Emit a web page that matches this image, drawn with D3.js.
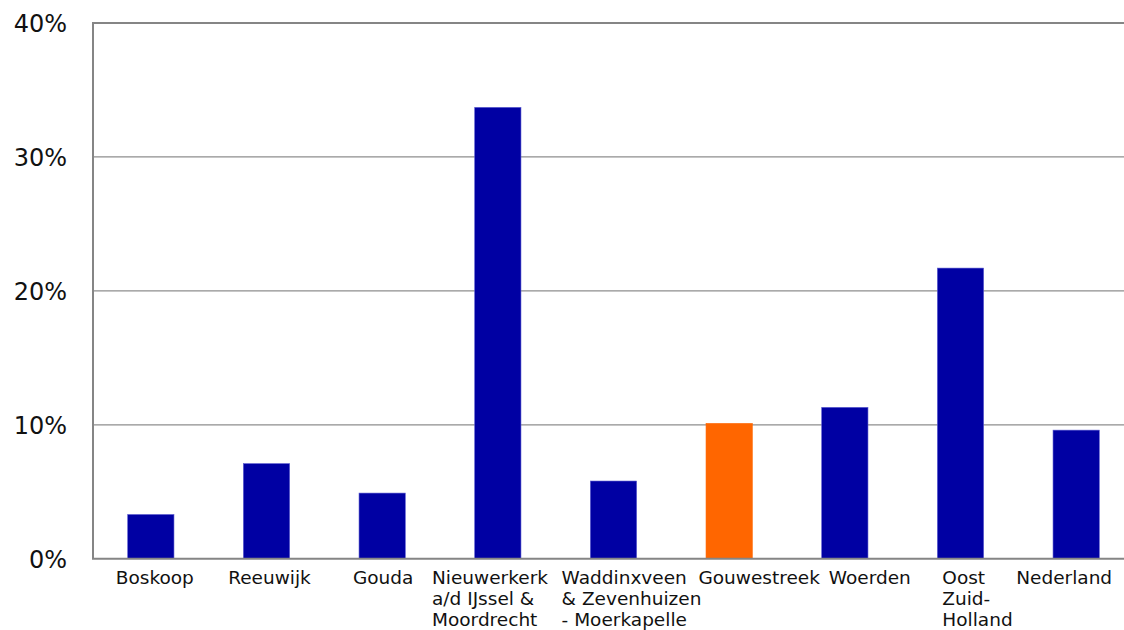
<!DOCTYPE html>
<html>
<head>
<meta charset="utf-8">
<script src="https://cdn.jsdelivr.net/npm/d3@7/dist/d3.min.js"></script>
<style>
  html, body { margin: 0; padding: 0; background: #fff; }
  svg { display: block; }
  text { font-family: "DejaVu Sans", Verdana, sans-serif; fill: #111; }
</style>
</head>
<body>
<svg id="chart" width="1124" height="630"></svg>
<script>
// Regions, each label split into its display lines
const categories = [
  ["Boskoop"],
  ["Reeuwijk"],
  ["Gouda"],
  ["Nieuwerkerk", "a/d IJssel &", "Moordrecht"],
  ["Waddinxveen", "& Zevenhuizen", "- Moerkapelle"],
  ["Gouwestreek"],
  ["Woerden"],
  ["Oost", "Zuid-", "Holland"],
  ["Nederland"]
];
// Share per region, in percent
const values = [3.3, 7.1, 4.9, 33.7, 5.8, 10.1, 11.3, 21.7, 9.6];
// The region total is highlighted
const highlight = ["Gouwestreek"];
const yTicks = [0, 10, 20, 30, 40];
const yTickLabels = ["0%", "10%", "20%", "30%", "40%"];

// Layout
const plot = { left: 93, right: 1134, top: 23, bottom: 558.7 };
// horizontal shift of each label block so neighbouring labels don't collide
const labelShift = [4, 3, 1, -8, 18, 30, 25, 17, -12];

const names = categories.map(c => c.join(" "));
const svg = d3.select("#chart");

const x = d3.scaleBand()
  .domain(names)
  .range([plot.left, plot.right])
  .paddingInner(0.6)
  .paddingOuter(0.3);

const y = d3.scaleLinear()
  .domain([0, 40])
  .range([plot.bottom, plot.top]);

// gridlines
svg.append("g")
  .selectAll("line")
  .data(yTicks.filter(t => t > 0 && t < 40))
  .join("line")
  .attr("x1", plot.left)
  .attr("x2", plot.right)
  .attr("y1", d => y(d))
  .attr("y2", d => y(d))
  .attr("stroke", "#8e8e8e")
  .attr("stroke-width", 1.2);

// bars
svg.append("g")
  .selectAll("rect")
  .data(values)
  .join("rect")
  .attr("x", (d, i) => x(names[i]))
  .attr("width", x.bandwidth())
  .attr("y", d => y(d))
  .attr("height", d => y(0) - y(d))
  .attr("fill", (d, i) => highlight.includes(names[i]) ? "#ff6600" : "#0000a3")
  .attr("stroke", (d, i) => highlight.includes(names[i]) ? "#ff6600" : "#5a5ad0")
  .attr("stroke-width", 0.6);

// plot frame: top, left and bottom edges
svg.append("path")
  .attr("d", `M${plot.right},${plot.top}H${plot.left}V${plot.bottom}H${plot.right}`)
  .attr("fill", "none")
  .attr("stroke", "#858585")
  .attr("stroke-width", 2);

// y axis labels
const yAxis = d3.axisLeft(y)
  .tickValues(yTicks)
  .tickFormat((d, i) => yTickLabels[i])
  .tickSize(0)
  .tickPadding(26);

const ya = svg.append("g")
  .attr("transform", `translate(${plot.left},0)`)
  .call(yAxis);
ya.select(".domain").remove();
ya.selectAll("text")
  .attr("font-size", 24)
  .attr("font-family", "DejaVu Sans, Verdana, sans-serif")
  .attr("fill", "#111")
  .attr("dy", "0.36em");

// x axis labels: lines left-aligned inside a block centred on its bar
const xa = svg.append("g");
categories.forEach((lines, i) => {
  const t = xa.append("text")
    .attr("font-size", 18.5)
    .attr("y", plot.bottom + 25.5);
  lines.forEach((ln, j) => {
    t.append("tspan")
      .attr("dy", j === 0 ? 0 : 21)
      .text(ln);
  });
  const spans = t.selectAll("tspan").nodes();
  const w = d3.max(spans, s => s.getComputedTextLength());
  const cx = x(names[i]) + x.bandwidth() / 2 + labelShift[i];
  spans.forEach(s => d3.select(s).attr("x", cx - w / 2));
});
</script>
</body>
</html>
